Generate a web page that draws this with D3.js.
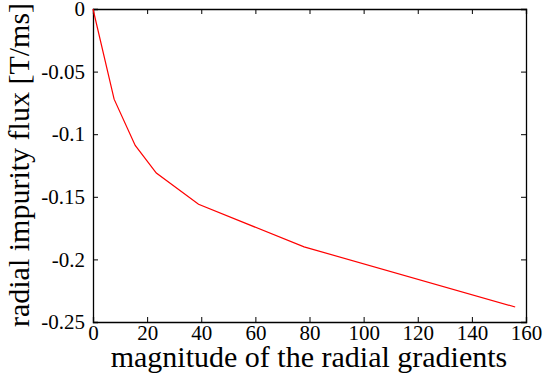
<!DOCTYPE html>
<html><head><meta charset="utf-8">
<script src="https://cdn.jsdelivr.net/npm/d3@7"></script>
<style>body{margin:0;background:#fff}svg{display:block}svg text{font-family:"Liberation Serif","DejaVu Serif",serif}</style>
</head><body>
<script>
const gradients = [0, 7.8, 15.6, 23.4, 39, 78, 156];
const flux = [0, -0.072, -0.109, -0.131, -0.156, -0.190, -0.238];
const xTicks = [0, 20, 40, 60, 80, 100, 120, 140, 160];
const yTicks = [0, -0.05, -0.1, -0.15, -0.2, -0.25];
const xTitle = "magnitude of the radial gradients";
const yTitle = "radial impurity flux [T/ms]";

const W = 547, H = 383;
const m = {l: 93, r: 21, t: 9, b: 61};
const svg = d3.select("body").append("svg").attr("width", W).attr("height", H);
const x = d3.scaleLinear().domain([0, 160]).range([m.l, W - m.r]);
const y = d3.scaleLinear().domain([-0.25, 0]).range([H - m.b, m.t]);

const fmt = d => d === 0 ? "0" : String(d);

const xb = svg.append("g").attr("transform", `translate(0,${H - m.b})`)
  .call(d3.axisBottom(x).tickValues(xTicks).tickSize(-5).tickPadding(3).tickFormat(d => d));
const xt = svg.append("g").attr("transform", `translate(0,${m.t})`)
  .call(d3.axisTop(x).tickValues(xTicks).tickSize(-5).tickFormat(""));
const yl = svg.append("g").attr("transform", `translate(${m.l},0)`)
  .call(d3.axisLeft(y).tickValues(yTicks).tickSize(-5).tickPadding(8).tickFormat(fmt));
const yr = svg.append("g").attr("transform", `translate(${W - m.r},0)`)
  .call(d3.axisRight(y).tickValues(yTicks).tickSize(-5).tickFormat(""));

[xb, xt, yl, yr].forEach(g => {
  g.attr("font-family", null).attr("font-size", 21);
  g.select(".domain").attr("stroke", "#000").attr("stroke-width", 1.3);
  g.selectAll(".tick line").attr("stroke", "#000").attr("stroke-width", 1);
  g.selectAll("text").attr("fill", "#000");
});
xb.selectAll(".tick text").attr("dy", "0.71em");

svg.append("path")
  .datum(gradients.map((g, i) => [g, flux[i]]))
  .attr("fill", "none").attr("stroke", "#ff0000").attr("stroke-width", 1.2)
  .attr("d", d3.line().x(d => x(d[0])).y(d => y(d[1])));

svg.append("text").attr("x", 309).attr("y", 367).attr("text-anchor", "middle")
  .attr("font-size", 30).attr("fill", "#000").text(xTitle);
svg.append("text").attr("transform", "translate(29,165) rotate(-90)").attr("text-anchor", "middle")
  .attr("font-size", 30).attr("fill", "#000").text(yTitle);
</script>
</body></html>
